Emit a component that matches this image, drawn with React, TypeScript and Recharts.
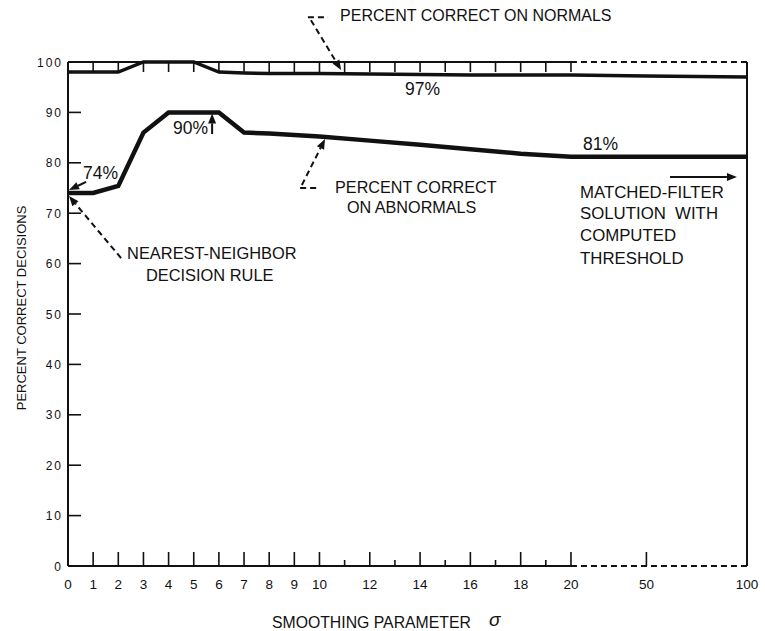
import { LineChart, Line, XAxis, YAxis, ReferenceLine, ReferenceDot } from 'recharts'

// smoothing parameter values where the curves were measured
const sigma = [0, 1, 2, 3, 4, 5, 6, 7, 8, 9, 10, 12, 14, 16, 18, 20, 50, 100]
const normals = [98, 98, 98, 100, 100, 100, 98, 97.8, 97.7, 97.7, 97.7, 97.6, 97.5, 97.4, 97.4, 97.4, 97.2, 97.0]
const abnormals = [74, 74, 75.4, 86, 90, 90, 90, 86, 85.8, 85.5, 85.2, 84.4, 83.6, 82.7, 81.8, 81.2, 81.2, 81.2]

const xLabels = [0, 1, 2, 3, 4, 5, 6, 7, 8, 9, 10, 12, 14, 16, 18, 20, 50, 100]
const xMinor = [11, 13, 15, 17, 19]
const yTicks = [0, 10, 20, 30, 40, 50, 60, 70, 80, 90, 100]

// the axis is linear up to 20, then 20-50 and 50-100 are squeezed in
const pos = (s: number) => (s <= 20 ? s : s <= 50 ? 20 + (s - 20) / 10 : 23 + (s - 50) / 12.5)
const X_MAX = pos(100)

const data = sigma.map((s, i) => ({ x: pos(s), normals: normals[i], abnormals: abnormals[i] }))

const INK = '#111'
const FONT = '"Liberation Sans", Arial, Helvetica, sans-serif'

// annotation text, placed in axis units
const notes = [
  { x: 10.82, y: 108.1, text: 'PERCENT CORRECT ON NORMALS', size: 16 },
  { x: 13.4, y: 93.5, text: '97%', size: 17.5 },
  { x: 4.18, y: 85.7, text: '90%', size: 17.5 },
  { x: 0.6, y: 76.8, text: '74%', size: 17.5 },
  { x: 10.62, y: 74.1, text: 'PERCENT CORRECT', size: 16.2 },
  { x: 11.09, y: 70.1, text: 'ON ABNORMALS', size: 16.2 },
  { x: 2.35, y: 61.0, text: 'NEAREST-NEIGHBOR', size: 16.4 },
  { x: 3.1, y: 56.6, text: 'DECISION RULE', size: 16.4 },
  { x: 20.48, y: 82.5, text: '81%', size: 17.5 },
  { x: 20.36, y: 73.1, text: 'MATCHED-FILTER', size: 16.8 },
  { x: 20.36, y: 68.9, text: 'SOLUTION  WITH', size: 16.8 },
  { x: 20.36, y: 64.4, text: 'COMPUTED', size: 16.8 },
  { x: 20.36, y: 60.0, text: 'THRESHOLD', size: 16.8 },
]

const arrows = [
  { from: [9.54, 108.9], to: [10.34, 108.9], dashed: true, head: false },
  { from: [9.66, 108.3], to: [10.86, 98.4], dashed: true, head: true },
  { from: [9.23, 75.0], to: [10.02, 75.0], dashed: true, head: false },
  { from: [9.3, 75.6], to: [10.22, 84.7], dashed: true, head: true },
  { from: [0.72, 76.2], to: [0.04, 74.6], dashed: false, head: true },
  { from: [2.11, 61.1], to: [0.04, 73.4], dashed: true, head: true },
  { from: [5.73, 85.7], to: [5.73, 89.8], dashed: false, head: true },
  { from: [23.94, 77.2], to: [26.6, 77.2], dashed: false, head: true },
]

const frame = [
  { from: [0, 0], to: [20, 0], dashed: false },
  { from: [20, 0], to: [X_MAX, 0], dashed: true },
  { from: [0, 100], to: [20, 100], dashed: false },
  { from: [20, 100], to: [X_MAX, 100], dashed: true },
  { from: [0, 0], to: [0, 100], dashed: false },
  { from: [X_MAX, 0], to: [X_MAX, 100], dashed: false },
]

const arrowShape = (dashed: boolean, head: boolean) => (p: any) => {
  const { x1, y1, x2, y2 } = p
  const a = Math.atan2(y2 - y1, x2 - x1)
  const L = head ? 10 : 0
  const bx = x2 - L * Math.cos(a)
  const by = y2 - L * Math.sin(a)
  const nx = -Math.sin(a) * 4
  const ny = Math.cos(a) * 4
  return (
    <g>
      <line x1={x1} y1={y1} x2={bx} y2={by} stroke={INK} strokeWidth={2} strokeDasharray={dashed ? '6 4' : undefined} />
      {head && <polygon points={`${x2},${y2} ${bx + nx},${by + ny} ${bx - nx},${by - ny}`} fill={INK} />}
    </g>
  )
}

const BottomTick = (props: any) => {
  const { x, y, payload } = props
  const s = xLabels.find((v) => pos(v) === payload.value)
  const minor = s === undefined
  const edge = payload.value === 0 || payload.value === X_MAX
  return (
    <g>
      {!edge && <line x1={x} y1={y} x2={x} y2={y - (minor ? 6 : 14)} stroke={INK} strokeWidth={1.6} />}
      {!minor && (
        <text x={x} y={y + 23} textAnchor="middle" fontSize={13.5} fill={INK} fontFamily={FONT}>{s}</text>
      )}
    </g>
  )
}

const TopTick = (props: any) => {
  const { x, y, payload } = props
  if (payload.value === 0) return <g />
  return <line x1={x} y1={y} x2={x} y2={y + 10} stroke={INK} strokeWidth={1.6} />
}

const LeftTick = (props: any) => {
  const { x, y, payload } = props
  const v = payload.value
  return (
    <g>
      {v > 0 && v < 100 && <line x1={x} y1={y} x2={x + 13} y2={y} stroke={INK} strokeWidth={1.6} />}
      <text x={x - 5} y={y + 4.5} textAnchor="end" fontSize={12} letterSpacing={2} fill={INK} fontFamily={FONT}>{v}</text>
    </g>
  )
}

const RightTick = (props: any) => {
  const { x, y, payload } = props
  const v = payload.value
  if (v <= 0 || v >= 100) return <g />
  return <line x1={x} y1={y} x2={x - 11} y2={y} stroke={INK} strokeWidth={1.6} />
}

export default function App() {
  return (
    <div style={{ position: 'absolute', left: 0, top: 0, background: '#fff' }}>
      <LineChart width={765} height={631} data={data} margin={{ top: 32, right: 0, left: 0, bottom: 35 }}>
        <XAxis
          dataKey="x" type="number" domain={[0, X_MAX]} allowDataOverflow
          ticks={[...xLabels, ...xMinor].map(pos).sort((a, b) => a - b)}
          interval={0} height={30} axisLine={false} tickLine={false} tickSize={0} tickMargin={0}
          tick={<BottomTick />}
        />
        <XAxis
          xAxisId="top" orientation="top" dataKey="x" type="number" domain={[0, X_MAX]}
          ticks={Array.from({ length: 21 }, (_, i) => i)}
          interval={0} height={30} axisLine={false} tickLine={false} tickSize={0} tickMargin={0}
          tick={<TopTick />}
        />
        <YAxis
          type="number" domain={[0, 100]} ticks={yTicks} interval={0} width={68}
          axisLine={false} tickLine={false} tickSize={0} tickMargin={0} tick={<LeftTick />}
        />
        <YAxis
          yAxisId="right" orientation="right" type="number" domain={[0, 100]} ticks={yTicks} interval={0} width={18}
          axisLine={false} tickLine={false} tickSize={0} tickMargin={0} tick={<RightTick />}
        />

        {frame.map((f, i) => (
          <ReferenceLine
            key={'f' + i} ifOverflow="visible"
            segment={[{ x: f.from[0], y: f.from[1] }, { x: f.to[0], y: f.to[1] }]}
            stroke={INK} strokeWidth={2} strokeDasharray={f.dashed ? '6 4' : undefined}
          />
        ))}

        <Line dataKey="normals" type="linear" stroke={INK} strokeWidth={3.5} dot={false} isAnimationActive={false} />
        <Line dataKey="abnormals" type="linear" stroke={INK} strokeWidth={4.5} dot={false} isAnimationActive={false} />

        {arrows.map((a, i) => (
          <ReferenceLine
            key={'a' + i} ifOverflow="visible"
            segment={[{ x: a.from[0], y: a.from[1] }, { x: a.to[0], y: a.to[1] }]}
            shape={arrowShape(a.dashed, a.head)}
          />
        ))}

        {notes.map((n, i) => (
          <ReferenceDot
            key={'n' + i} x={n.x} y={n.y} r={0} ifOverflow="visible"
            shape={(p: any) => (
              <text x={p.cx} y={p.cy} fontSize={n.size} fill={INK} fontFamily={FONT} style={{ whiteSpace: 'pre' }}>
                {n.text}
              </text>
            )}
          />
        ))}

        <ReferenceDot
          x={-1.83} y={51.2} r={0} ifOverflow="visible"
          shape={(p: any) => (
            <text
              x={p.cx} y={p.cy} transform={`rotate(-90, ${p.cx}, ${p.cy})`} textAnchor="middle"
              dominantBaseline="central" fontSize={13} fill={INK} fontFamily={FONT}
            >
              PERCENT CORRECT DECISIONS
            </text>
          )}
        />
        <ReferenceDot
          x={8.11} y={-12.3} r={0} ifOverflow="visible"
          shape={(p: any) => (
            <text x={p.cx} y={p.cy} fontSize={15.8} fill={INK} fontFamily={FONT} style={{ whiteSpace: 'pre' }}>
              SMOOTHING PARAMETER
              <tspan dx={18} dy={-2} fontSize={19} fontStyle="italic">σ</tspan>
            </text>
          )}
        />
      </LineChart>
    </div>
  )
}
